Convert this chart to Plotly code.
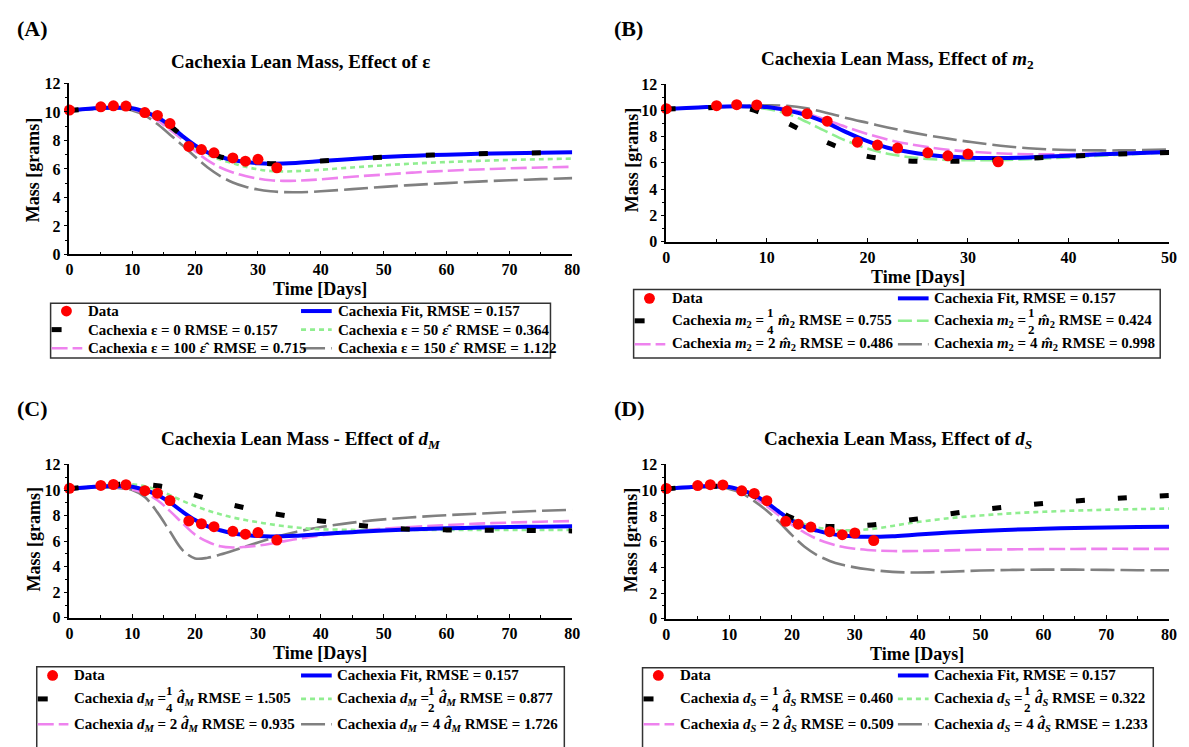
import plotly.graph_objects as go

W, H = 1189, 747
OFF = 8                      # browser body margin
FW, FH = W - OFF, H - OFF    # figure size so that it ends at the window edge
FONT = "Liberation Serif"

# ---------------- data ----------------
t_data = [0, 5, 7, 9, 12, 14, 16, 19, 21, 23, 26, 28, 30, 33]
mass_data = [10.13, 10.36, 10.43, 10.41, 9.95, 9.75, 9.18, 7.58, 7.36, 7.13, 6.77, 6.54, 6.67, 6.08]

t80 = [0, 2, 4, 6, 8, 10, 12, 14, 16, 18, 20, 22, 24, 26, 28, 30, 32, 34, 36, 38, 40, 45, 50, 55, 60, 65, 70, 75, 80]
t50 = [0, 2, 4, 6, 8, 10, 12, 14, 16, 18, 20, 22, 24, 26, 28, 30, 32, 34, 36, 38, 40, 45, 50]

fit80 = [10.1, 10.18, 10.25, 10.3, 10.3, 10.25, 10.0, 9.62, 9.03, 8.3, 7.65, 7.15, 6.85, 6.62, 6.48, 6.4, 6.37, 6.38, 6.42, 6.48, 6.55, 6.7, 6.83, 6.93, 7.0, 7.06, 7.1, 7.13, 7.16]
fit50 = [10.1, 10.18, 10.25, 10.3, 10.3, 10.25, 10.0, 9.62, 9.03, 8.3, 7.65, 7.15, 6.85, 6.62, 6.48, 6.4, 6.37, 6.38, 6.42, 6.48, 6.55, 6.7, 6.83]

# (A) effect of epsilon
eps_0 = [10.1, 10.18, 10.25, 10.3, 10.3, 10.25, 10.0, 9.62, 9.03, 8.3, 7.65, 7.15, 6.85, 6.62, 6.48, 6.4, 6.37, 6.38, 6.42, 6.48, 6.55, 6.7, 6.83, 6.93, 7.0, 7.06, 7.1, 7.13, 7.16]
eps_50 = [10.1, 10.18, 10.25, 10.3, 10.3, 10.23, 9.97, 9.55, 8.9, 8.2, 7.5, 7.0, 6.65, 6.4, 6.15, 5.97, 5.85, 5.82, 5.84, 5.88, 5.94, 6.1, 6.25, 6.38, 6.48, 6.56, 6.63, 6.68, 6.72]
eps_100 = [10.1, 10.17, 10.23, 10.27, 10.27, 10.18, 9.9, 9.4, 8.75, 8.05, 7.25, 6.6, 6.1, 5.75, 5.5, 5.32, 5.2, 5.16, 5.17, 5.21, 5.27, 5.45, 5.6, 5.75, 5.87, 5.96, 6.04, 6.1, 6.15]
eps_150 = [10.1, 10.16, 10.2, 10.23, 10.22, 10.1, 9.75, 9.15, 8.4, 7.65, 6.85, 6.1, 5.5, 5.05, 4.75, 4.55, 4.43, 4.37, 4.36, 4.38, 4.43, 4.58, 4.74, 4.88, 5.0, 5.11, 5.2, 5.28, 5.35]

# (B) effect of m2
m2_quarter = [10.1, 10.15, 10.2, 10.25, 10.15, 9.65, 9.05, 8.25, 7.55, 6.95, 6.5, 6.28, 6.15, 6.12, 6.12, 6.15, 6.2, 6.27, 6.35, 6.43, 6.5, 6.67, 6.8]
m2_half = [10.1, 10.17, 10.22, 10.27, 10.25, 10.1, 9.75, 9.1, 8.35, 7.65, 7.1, 6.7, 6.45, 6.3, 6.22, 6.2, 6.2, 6.23, 6.28, 6.35, 6.42, 6.62, 6.8]
m2_double = [10.1, 10.17, 10.23, 10.28, 10.3, 10.28, 10.12, 9.75, 9.25, 8.7, 8.2, 7.78, 7.45, 7.2, 7.0, 6.87, 6.77, 6.7, 6.66, 6.65, 6.66, 6.75, 6.85]
m2_quad = [10.1, 10.18, 10.25, 10.3, 10.35, 10.38, 10.35, 10.15, 9.8, 9.4, 9.05, 8.7, 8.38, 8.1, 7.85, 7.62, 7.42, 7.25, 7.12, 7.03, 6.98, 6.95, 7.03]

# (C) effect of dM
dM_quarter = [10.1, 10.2, 10.3, 10.38, 10.45, 10.45, 10.42, 10.33, 10.15, 9.9, 9.6, 9.3, 9.05, 8.82, 8.6, 8.4, 8.2, 8.02, 7.86, 7.7, 7.58, 7.3, 7.05, 6.92, 6.88, 6.86, 6.85, 6.83, 6.8]
dM_half = [10.1, 10.2, 10.3, 10.38, 10.45, 10.45, 10.3, 10.0, 9.6, 9.15, 8.75, 8.4, 8.1, 7.85, 7.65, 7.48, 7.32, 7.18, 7.07, 6.98, 6.93, 6.88, 6.87, 6.87, 6.87, 6.87, 6.87, 6.87, 6.87]
dM_double = [10.1, 10.17, 10.22, 10.25, 10.22, 10.05, 9.75, 9.2, 8.35, 7.4, 6.5, 5.95, 5.6, 5.5, 5.55, 5.65, 5.8, 5.98, 6.15, 6.3, 6.45, 6.75, 6.97, 7.13, 7.26, 7.37, 7.45, 7.52, 7.57]
dM_quad = [10.1, 10.15, 10.2, 10.2, 10.15, 10.0, 9.45, 8.25, 6.75, 5.3, 4.65, 4.7, 4.95, 5.25, 5.58, 5.9, 6.2, 6.48, 6.72, 6.92, 7.1, 7.45, 7.7, 7.88, 8.03, 8.15, 8.27, 8.37, 8.45]

# (D) effect of dS
dS_quarter = [10.1, 10.18, 10.25, 10.28, 10.3, 10.25, 10.0, 9.55, 8.95, 8.35, 7.85, 7.5, 7.28, 7.18, 7.17, 7.2, 7.27, 7.37, 7.5, 7.63, 7.77, 8.15, 8.47, 8.74, 8.97, 9.16, 9.32, 9.46, 9.58]
dS_half = [10.1, 10.18, 10.25, 10.28, 10.3, 10.25, 10.0, 9.55, 8.95, 8.3, 7.75, 7.35, 7.1, 6.95, 6.88, 6.88, 6.95, 7.07, 7.22, 7.38, 7.52, 7.82, 8.03, 8.2, 8.32, 8.41, 8.48, 8.53, 8.57]
dS_double = [10.1, 10.17, 10.23, 10.27, 10.28, 10.2, 9.9, 9.4, 8.75, 8.0, 7.3, 6.7, 6.2, 5.85, 5.6, 5.45, 5.35, 5.3, 5.27, 5.26, 5.27, 5.32, 5.37, 5.4, 5.42, 5.43, 5.44, 5.44, 5.44]
dS_quad = [10.1, 10.16, 10.2, 10.23, 10.22, 10.1, 9.75, 9.15, 8.4, 7.5, 6.5, 5.6, 4.95, 4.5, 4.2, 4.0, 3.85, 3.73, 3.65, 3.61, 3.6, 3.66, 3.75, 3.8, 3.82, 3.82, 3.8, 3.78, 3.77]

x_ticks_80 = [0, 10, 20, 30, 40, 50, 60, 70, 80]
x_ticks_50 = [0, 10, 20, 30, 40, 50]
y_ticks = [0, 2, 4, 6, 8, 10, 12]

# ---------------- styles ----------------
BLUE = "#0000ff"
RED = "#ff0000"
GREEN = "#90ee90"
PINK = "#ee82ee"
GRAY = "#808080"
BLACK = "#000000"

STY_FIT = dict(color=BLUE, width=4)
STY_BLACK = dict(color=BLACK, width=5, dash="9px,33px")
STY_GREEN_DOT = dict(color=GREEN, width=2.6, dash="5px,4px")
STY_GREEN_DASH = dict(color=GREEN, width=2.6, dash="14px,5px")
STY_PINK = dict(color=PINK, width=2.6, dash="16px,5px")
STY_GRAY = dict(color=GRAY, width=2.6, dash="24px,6px")


def px_x(x):
    return (x - OFF) / FW


def px_y(y):
    return 1 - (y - OFF) / FH


fig = go.Figure()

panels = [
    dict(xa="x", ya="y", xp=(66, 574), yp=(77, 252), t=t80, fit=fit80, xmax=80, xt=x_ticks_80,
         gray=eps_150, pink=eps_100, green=eps_50, black=eps_0, gsty=STY_GREEN_DOT,
         bsty=dict(color=BLACK, width=5, dash="9px,44px")),
    dict(xa="x2", ya="y2", xp=(669, 1177), yp=(77.7, 239), t=t50, fit=fit50, xmax=50, xt=x_ticks_50,
         gray=m2_quad, pink=m2_double, green=m2_half, black=m2_quarter, gsty=STY_GREEN_DASH, bsty=STY_BLACK),
    dict(xa="x3", ya="y3", xp=(66, 574), yp=(467, 624), t=t80, fit=fit80, xmax=80, xt=x_ticks_80,
         gray=dM_quad, pink=dM_double, green=dM_half, black=dM_quarter, gsty=STY_GREEN_DOT, bsty=STY_BLACK),
    dict(xa="x4", ya="y4", xp=(669, 1177), yp=(467, 625), t=t80, fit=fit80, xmax=80, xt=x_ticks_80,
         gray=dS_quad, pink=dS_double, green=dS_half, black=dS_quarter, gsty=STY_GREEN_DOT, bsty=STY_BLACK),
]

TICKFONT = dict(family=FONT, size=16, color="black", weight="bold")

layout_axes = {}
for i, p in enumerate(panels):
    common = dict(xaxis=p["xa"], yaxis=p["ya"], mode="lines", line_shape="spline", hoverinfo="skip", showlegend=False)
    fig.add_trace(go.Scatter(x=p["t"], y=p["gray"], line=STY_GRAY, **common))
    fig.add_trace(go.Scatter(x=p["t"], y=p["pink"], line=STY_PINK, **common))
    fig.add_trace(go.Scatter(x=p["t"], y=p["green"], line=p["gsty"], **common))
    fig.add_trace(go.Scatter(x=p["t"], y=p["fit"], line=STY_FIT, **common))
    fig.add_trace(go.Scatter(x=p["t"], y=p["black"], line=p["bsty"], **common))
    fig.add_trace(go.Scatter(x=t_data, y=mass_data, xaxis=p["xa"], yaxis=p["ya"], mode="markers",
                             marker=dict(color=RED, size=11), cliponaxis=False, showlegend=False,
                             hoverinfo="skip"))
    suffix = "" if i == 0 else str(i + 1)
    layout_axes["xaxis" + suffix] = dict(
        domain=[px_x(p["xp"][0]), px_x(p["xp"][1])], anchor=p["ya"], range=[0, p["xmax"]],
        tickmode="array", tickvals=p["xt"], ticks="inside", ticklen=4, tickwidth=1.3, tickcolor="black",
        minor=dict(dtick=5, tick0=0, ticks="inside", ticklen=3, tickwidth=1.2, tickcolor="black"),
        showline=True, linecolor="black", linewidth=1.5, showgrid=False, zeroline=False,
        tickfont=TICKFONT,
    )
    layout_axes["yaxis" + suffix] = dict(
        domain=[px_y(p["yp"][1]), px_y(p["yp"][0])], anchor=p["xa"], range=[0, 12],
        tickmode="array", tickvals=y_ticks, ticks="outside", ticklen=4, tickwidth=1.3, tickcolor="black",
        minor=dict(dtick=1, tick0=0, ticks="outside", ticklen=2.5, tickwidth=1.2, tickcolor="black"),
        showline=True, linecolor="black", linewidth=1.5, showgrid=False, zeroline=False,
        tickfont=TICKFONT,
    )

annotations = []
shapes = []


def add_text(x, y, text, size=15, anchor="left", angle=0):
    annotations.append(dict(xref="paper", yref="paper", x=px_x(x), y=px_y(y), text="<b>" + text + "</b>",
                            showarrow=False, xanchor=anchor, yanchor="middle", textangle=angle,
                            font=dict(family=FONT, size=size, color="black")))


def add_line_sym(x0, x1, y, sty):
    shapes.append(dict(type="line", xref="paper", yref="paper", x0=px_x(x0), x1=px_x(x1),
                       y0=px_y(y), y1=px_y(y), line=sty))


def add_dot(x, y, r=5.5):
    shapes.append(dict(type="circle", xref="paper", yref="paper", x0=px_x(x - r), x1=px_x(x + r),
                       y0=px_y(y + r), y1=px_y(y - r), fillcolor=RED, line=dict(width=0)))


def add_box(x0, y0, x1, y1):
    shapes.append(dict(type="rect", xref="paper", yref="paper", x0=px_x(x0), x1=px_x(x1),
                       y0=px_y(y1), y1=px_y(y0), line=dict(color="#333333", width=1.5), fillcolor="rgba(0,0,0,0)"))


# panel letters
add_text(29, 21, "(A)", size=22, anchor="center")
add_text(631, 21, "(B)", size=22, anchor="center")
add_text(29, 410, "(C)", size=22, anchor="center")
add_text(632, 410, "(D)", size=22, anchor="center")

# titles
add_text(299, 55, "Cachexia Lean Mass, Effect of ε", size=19, anchor="center")
add_text(903, 53, "Cachexia Lean Mass, Effect of <i>m</i><sub>2</sub>", size=19, anchor="center")
add_text(300, 442, "Cachexia Lean Mass - Effect of <i>d</i><sub><i>M</i></sub>", size=19, anchor="center")
add_text(903, 442, "Cachexia Lean Mass, Effect of <i>d</i><sub><i>S</i></sub>", size=19, anchor="center")

# axis titles
for (xm, ym), (xt_, yt_) in [((30, 166), (319, 287)), ((634, 156), (923, 275)),
                             ((30, 544), (319, 660)), ((633, 545), (922, 661))]:
    add_text(xm, ym, "Mass [grams]", size=18, anchor="center", angle=-90)
    add_text(xt_, yt_, "Time [Days]", size=18, anchor="center")

# ---------------- legends ----------------
FS = 15


def legend_block(box, rows, c1_sym, c1_txt, c2_sym, c2_txt, green_sty, black_sty, texts):
    add_box(*box)
    r1, r2, r3 = rows
    add_dot(c1_sym + 15, r1)
    add_line_sym(c1_sym, c1_sym + 31, r2, black_sty)
    add_line_sym(c1_sym, c1_sym + 31, r3, STY_PINK)
    add_line_sym(c2_sym, c2_sym + 31, r1, STY_FIT)
    add_line_sym(c2_sym, c2_sym + 31, r2, green_sty)
    add_line_sym(c2_sym, c2_sym + 31, r3, STY_GRAY)
    add_text(c1_txt, r1, "Data", FS)
    add_text(c2_txt, r1, "Cachexia Fit, RMSE = 0.157", FS)
    for item in texts:
        if isinstance(item[2], str):
            add_text(item[0], item[1], item[2], FS)
        else:
            x0, y, (pre, frac, fx, suf, sx) = item
            add_text(x0, y, pre, FS)
            add_text(fx, y, frac, 13, anchor="center")
            add_text(sx, y, suf, FS)


LEG_BLACK = dict(color=BLACK, width=5, dash="10px,60px")
NB = "\u00a0"
EH = "<i>ε̂</i>" + NB + NB

# (A)
legend_block((47, 302, 552, 358), (310, 329, 348), 48, 83, 300, 335, STY_GREEN_DOT, LEG_BLACK, [
    (83, 329, "Cachexia ε = 0 RMSE = 0.157"),
    (335, 329, "Cachexia ε = 50 " + EH + "RMSE = 0.364"),
    (83, 348, "Cachexia ε = 100 " + EH + "RMSE = 0.715"),
    (335, 348, "Cachexia ε = 150 " + EH + "RMSE = 1.122"),
])

M2 = "<i>m</i><sub>2</sub>"
M2H = "<i>m̂</i><sub>2</sub>"
# (B)
legend_block((636, 288, 1168, 358), (297, 320, 344), 637, 673, 903, 937, STY_GREEN_DASH, LEG_BLACK, [
    (673, 320, ("Cachexia " + M2 + " =", "1<br>4", 774.5, M2H + " RMSE = 0.755", 780)),
    (937, 320, ("Cachexia " + M2 + " =", "1<br>2", 1038, M2H + " RMSE = 0.424", 1043)),
    (673, 344, "Cachexia " + M2 + " = 2 " + M2H + " RMSE = 0.486"),
    (937, 344, "Cachexia " + M2 + " = 4 " + M2H + " RMSE = 0.998"),
])

DM = "<i>d</i><sub><i>M</i></sub>"
DMH = "<i>d̂</i><sub><i>M</i></sub>"
# (C)
legend_block((33, 674, 566, 760), (683, 707, 733), 34, 69, 300, 334, STY_GREEN_DOT, LEG_BLACK, [
    (69, 707, ("Cachexia " + DM + " =", "1<br>4", 167.5, DMH + " RMSE = 1.505", 173)),
    (334, 707, ("Cachexia " + DM + " =", "1<br>2", 432, DMH + " RMSE = 0.877", 437)),
    (69, 733, "Cachexia " + DM + " = 2 " + DMH + " RMSE = 0.935"),
    (334, 733, "Cachexia " + DM + " = 4 " + DMH + " RMSE = 1.726"),
])

DS = "<i>d</i><sub><i>S</i></sub>"
DSH = "<i>d̂</i><sub><i>S</i></sub>"
# (D)
legend_block((645, 675, 1161, 760), (683, 707, 733), 646, 681, 903, 937, STY_GREEN_DOT, LEG_BLACK, [
    (681, 707, ("Cachexia " + DS + " =", "1<br>4", 779.6, DSH + " RMSE = 0.460", 785)),
    (937, 707, ("Cachexia " + DS + " =", "1<br>2", 1033.6, DSH + " RMSE = 0.322", 1039)),
    (681, 733, "Cachexia " + DS + " = 2 " + DSH + " RMSE = 0.509"),
    (937, 733, "Cachexia " + DS + " = 4 " + DSH + " RMSE = 1.233"),
])

fig.update_layout(
    width=FW, height=FH, margin=dict(l=0, r=0, t=0, b=0),
    paper_bgcolor="white", plot_bgcolor="white", showlegend=False,
    font=dict(family=FONT, color="black"),
    annotations=annotations, shapes=shapes,
    **layout_axes,
)

fig.write_html("out.html")
